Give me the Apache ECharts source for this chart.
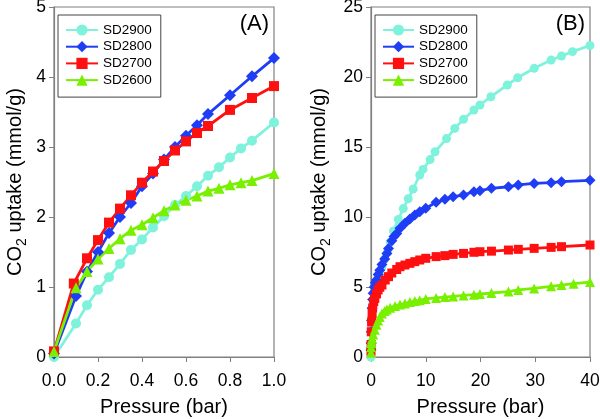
<!DOCTYPE html>
<html><head><meta charset="utf-8">
<script src="https://cdn.jsdelivr.net/npm/echarts@6/dist/echarts.min.js"></script>
<style>html,body{margin:0;padding:0;background:#fff}#c{width:600px;height:419px}</style>
</head><body><div id="c"></div>
<script>
// ---------- data ----------
const seriesNames = ['SD2900', 'SD2800', 'SD2700', 'SD2600'];
const ticksA_x = [0, 0.2, 0.4, 0.6, 0.8, 1.0];
const ticksB_x = [0, 10, 20, 30, 40];

// Panel A (0-1 bar)
const pA_2900 = [0, 0.1, 0.15, 0.2, 0.25, 0.3, 0.35, 0.4, 0.45, 0.5, 0.55, 0.6, 0.65, 0.7, 0.75, 0.8, 0.85, 0.9, 1.0];
const vA_2900 = [0, 0.48, 0.74, 0.96, 1.14, 1.33, 1.53, 1.68, 1.85, 2.01, 2.17, 2.30, 2.44, 2.59, 2.71, 2.85, 2.98, 3.09, 3.35];
const pA_2800 = [0, 0.1, 0.15, 0.2, 0.25, 0.3, 0.35, 0.4, 0.45, 0.5, 0.55, 0.6, 0.65, 0.7, 0.8, 0.9, 1.0];
const vA_2800 = [0.05, 0.87, 1.22, 1.50, 1.77, 2.00, 2.20, 2.44, 2.62, 2.82, 3.00, 3.16, 3.31, 3.47, 3.74, 4.01, 4.27];
const pA_2700 = [0, 0.09, 0.15, 0.2, 0.25, 0.3, 0.35, 0.4, 0.45, 0.5, 0.55, 0.6, 0.65, 0.7, 0.8, 0.9, 1.0];
const vA_2700 = [0.08, 1.05, 1.41, 1.67, 1.92, 2.12, 2.31, 2.49, 2.65, 2.80, 2.95, 3.08, 3.20, 3.30, 3.53, 3.70, 3.87];
const pA_2600 = [0, 0.1, 0.15, 0.2, 0.25, 0.3, 0.35, 0.4, 0.45, 0.5, 0.55, 0.6, 0.65, 0.7, 0.75, 0.8, 0.85, 0.9, 1.0];
const vA_2600 = [0.08, 0.99, 1.22, 1.40, 1.55, 1.69, 1.81, 1.89, 1.99, 2.09, 2.17, 2.24, 2.30, 2.37, 2.41, 2.46, 2.49, 2.52, 2.62];

// Panel B (0-40 bar)
const pB_2900 = [0, 0.1, 0.2, 0.4, 0.6, 0.8, 1.0, 1.3, 1.6, 2.0, 2.5, 3.0, 3.5, 4.1, 5.0, 5.9, 6.8, 7.7, 8.9, 9.5, 10.8, 11.7, 13.8, 15.3, 16.9, 18.8, 19.9, 21.9, 24.9, 26.8, 29.8, 32.9, 34.8, 36.8, 40];
const vB_2900 = [0, 2.0, 2.9, 3.9, 4.5, 4.9, 5.2, 5.7, 6.0, 6.4, 7.0, 7.5, 8.2, 9.0, 9.83, 10.6, 11.3, 12.0, 13.0, 13.4, 14.1, 14.66, 15.6, 16.33, 16.98, 17.64, 18.0, 18.59, 19.43, 19.95, 20.62, 21.21, 21.5, 21.81, 22.25];
const pB_2800 = [0, 0.02, 0.05, 0.1, 0.2, 0.3, 0.4, 0.6, 0.8, 1.0, 1.3, 1.6, 2.0, 2.5, 2.9, 3.2, 3.8, 4.2, 4.7, 5.3, 6.2, 7.1, 8.0, 8.9, 10.0, 11.9, 13.5, 15.0, 16.9, 18.8, 19.9, 22.0, 25.1, 26.9, 29.8, 32.9, 34.8, 40];
const vB_2800 = [0.5, 1.0, 1.8, 2.6, 3.5, 4.1, 4.55, 5.0, 5.3, 5.5, 5.9, 6.2, 6.6, 7.0, 7.4, 7.75, 8.3, 8.6, 8.83, 9.19, 9.55, 9.86, 10.14, 10.38, 10.62, 11.05, 11.26, 11.45, 11.57, 11.81, 11.88, 12.05, 12.16, 12.29, 12.4, 12.45, 12.52, 12.62];
const pB_2700 = [0, 0.02, 0.05, 0.1, 0.2, 0.3, 0.5, 0.7, 1.0, 1.3, 1.6, 2.0, 2.6, 3.2, 3.8, 4.7, 5.3, 6.2, 7.1, 8.0, 8.9, 10.0, 11.9, 13.5, 15.0, 16.9, 18.8, 19.9, 22.0, 25.1, 26.9, 29.8, 32.9, 34.8, 40];
const vB_2700 = [0.4, 0.9, 1.8, 2.5, 3.1, 3.5, 3.95, 4.19, 4.5, 4.79, 4.98, 5.14, 5.5, 5.74, 6.0, 6.25, 6.45, 6.57, 6.69, 6.81, 6.93, 7.05, 7.17, 7.24, 7.33, 7.4, 7.48, 7.52, 7.56, 7.64, 7.69, 7.76, 7.83, 7.88, 8.0];
const pB_2600 = [0, 0.02, 0.05, 0.1, 0.2, 0.4, 0.7, 1.0, 1.3, 1.6, 2.0, 2.5, 2.9, 3.5, 4.4, 5.3, 6.2, 7.1, 8.0, 8.9, 10.0, 11.9, 13.5, 15.0, 16.9, 18.8, 19.9, 22.0, 25.1, 26.9, 29.8, 32.9, 34.8, 37.0, 40];
const vB_2600 = [0.3, 0.7, 1.0, 1.1, 1.3, 1.6, 1.95, 2.3, 2.6, 2.85, 3.1, 3.28, 3.4, 3.52, 3.65, 3.75, 3.83, 3.92, 4.0, 4.05, 4.15, 4.22, 4.28, 4.33, 4.4, 4.45, 4.5, 4.57, 4.67, 4.79, 4.9, 5.05, 5.14, 5.24, 5.35];

// ---------- styling ----------
const FONT = 'Liberation Sans, Arial, sans-serif';
const colors = ['#7ff2dc', '#1f3df5', '#ff1010', '#78f000'];
const symbols = ['circle', 'diamond', 'rect', 'triangle'];
const symSizeA = [10, 12, 10, 11];
const symSizeB = [9, 11, 9, 10];
const AXIS = '#808080';

function zip(p, v) { return p.map((x, i) => [x, v[i]]); }
const dataA = [zip(pA_2900, vA_2900), zip(pA_2800, vA_2800), zip(pA_2700, vA_2700), zip(pA_2600, vA_2600)];
const dataB = [zip(pB_2900, vB_2900), zip(pB_2800, vB_2800), zip(pB_2700, vB_2700), zip(pB_2600, vB_2600)];

function mkSeries(data, idx, sizes) {
  return data.map((d, i) => ({
    name: seriesNames[i], type: 'line', xAxisIndex: idx, yAxisIndex: idx,
    data: d, symbol: symbols[i], symbolSize: sizes[i], showAllSymbol: true,
    color: colors[i],
    lineStyle: { color: colors[i], width: 2.8 },
    itemStyle: { color: colors[i] },
    animation: false
  }));
}

const yName = '{a|CO}{b|2}{a| uptake (mmol/g)}';
const yNameRich = {
  a: { fontFamily: FONT, fontSize: 20, color: '#000', lineHeight: 28 },
  b: { fontFamily: FONT, fontSize: 14, color: '#000', lineHeight: 28, verticalAlign: 'bottom' }
};

function xAxis(idx, max, interval, fmt) {
  return {
    type: 'value', gridIndex: idx, min: 0, max: max, interval: interval,
    name: 'Pressure (bar)', nameLocation: 'middle', nameGap: 40,
    nameTextStyle: { fontFamily: FONT, fontSize: 20, color: '#000' },
    axisLine: { show: true, onZero: false, lineStyle: { color: AXIS, width: 1.2 } },
    axisTick: { show: true, inside: false, length: 5, lineStyle: { color: AXIS } },
    axisLabel: { fontFamily: FONT, fontSize: 17.5, color: '#000', margin: 15, formatter: fmt },
    splitLine: { show: false }
  };
}
function yAxis(idx, max, interval, gap) {
  return {
    type: 'value', gridIndex: idx, min: 0, max: max, interval: interval,
    name: yName, nameLocation: 'middle', nameGap: gap, nameRotate: 90,
    nameTextStyle: { rich: yNameRich },
    axisLine: { show: true, onZero: false, lineStyle: { color: AXIS, width: 1.2 } },
    axisTick: { show: true, inside: false, length: 5, lineStyle: { color: AXIS } },
    axisLabel: { fontFamily: FONT, fontSize: 17.5, color: '#000', margin: 8 },
    splitLine: { show: false }
  };
}
function legend(left, textGap, itemW) {
  return {
    left: left, top: 15, orient: 'vertical', data: seriesNames,
    borderColor: '#444', borderWidth: 1, borderRadius: 0,
    padding: [8, 9, 10, 7], itemWidth: itemW, itemHeight: 14, itemGap: 2.7,
    itemTextGap: textGap, selectedMode: false,
    textStyle: { fontFamily: FONT, fontSize: 13.5, color: '#000' }
  };
}

const chart = echarts.init(document.getElementById('c'), null, { renderer: 'canvas' });
chart.setOption({
  backgroundColor: '#fff',
  animation: false,
  grid: [
    { left: 54, top: 7, width: 220, height: 350, containLabel: false, outerBoundsMode: 'none', show: true, borderColor: AXIS, borderWidth: 1.2, backgroundColor: 'transparent' },
    { left: 371, top: 7, width: 219, height: 350, containLabel: false, outerBoundsMode: 'none', show: true, borderColor: AXIS, borderWidth: 1.2, backgroundColor: 'transparent' }
  ],
  xAxis: [
    xAxis(0, 1, 0.2, v => v.toFixed(1)),
    xAxis(1, 40, 10, v => String(v))
  ],
  yAxis: [
    yAxis(0, 5, 1, 25),
    yAxis(1, 25, 5, 38)
  ],
  legend: [legend(58, 6, 32), legend(375, 7, 31)],
  graphic: [
    { type: 'text', right: 600 - 269, top: 13, style: { text: '(A)', fontFamily: FONT, fontSize: 22, fill: '#000' } },
    { type: 'text', right: 600 - 585, top: 13, style: { text: '(B)', fontFamily: FONT, fontSize: 22, fill: '#000' } }
  ],
  series: mkSeries(dataA, 0, symSizeA).concat(mkSeries(dataB, 1, symSizeB))
});
</script>
</body></html>
